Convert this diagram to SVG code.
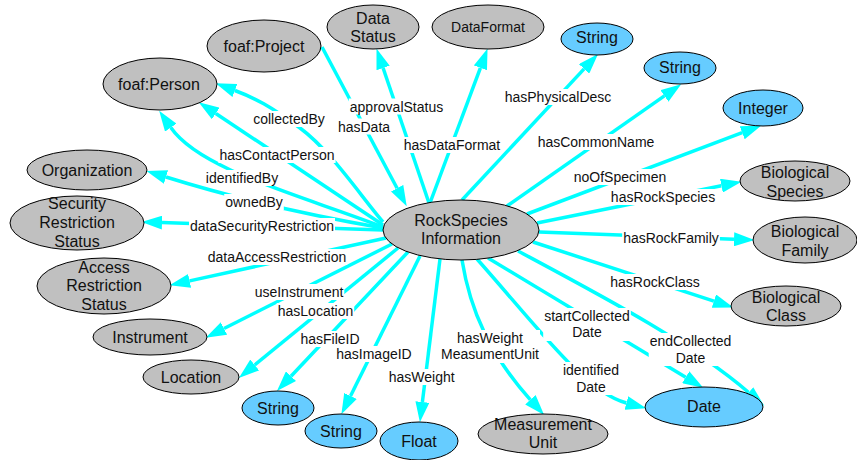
<svg xmlns="http://www.w3.org/2000/svg" width="857" height="460" viewBox="0 0 857 460">
<style>
.g ellipse{fill:#C0C0C0;stroke:#000;stroke-width:1}
.b ellipse{fill:#66CCFF;stroke:#000;stroke-width:1}
.nt{font-family:"Liberation Sans",Arial,Helvetica,sans-serif;font-size:16px;text-anchor:middle;fill:#111}
.sm{font-size:14px}
.e{fill:none;stroke:#00FFFF;stroke-width:3.5;marker-end:url(#arr)}
.et{font-family:"Liberation Sans",Arial,Helvetica,sans-serif;font-size:14px;text-anchor:middle;fill:#111}
.lb{fill:#fff}
</style>
<defs>
<marker id="arr" markerUnits="userSpaceOnUse" markerWidth="22" markerHeight="14" refX="0" refY="7" orient="auto">
<path d="M0,0 L20.5,7 L0,14 z" fill="#00FFFF"/>
</marker>
</defs>
<rect width="857" height="460" fill="#fff"/>
<g id="connectors">
<path class="e" d="M429,203 L383.1,68"/>
<path class="e" d="M430,203 L480.4,67.8"/>
<path class="e" d="M322,47 L397.1,188.2"/>
<path class="e" d="M462,200 L584.1,68.9"/>
<path class="e" d="M507,206 L664.4,95.9"/>
<path class="e" d="M527,214 L742.2,132.7"/>
<path class="e" d="M537,223 L721.4,185.7"/>
<path class="e" d="M539,232 L734,239.3"/>
<path class="e" d="M533,242 L713.9,301.1"/>
<path class="e" d="M518,251 C600,295 690,342 748.7,392.5"/>
<path class="e" d="M488,258 L685.7,377.2"/>
<path class="e" d="M477,259 C540,330 585,392 626.4,403"/>
<path class="e" d="M462,260 C470,310 490,355 530.4,399.8"/>
<path class="e" d="M440,259 L422.4,402"/>
<path class="e" d="M420,256 L350.5,396"/>
<path class="e" d="M408,252 L291,376.2"/>
<path class="e" d="M398,248 L254.7,365"/>
<path class="e" d="M392,244 L224,328.5"/>
<path class="e" d="M386,238 L189.6,280.9"/>
<path class="e" d="M383,230 L162,222.6"/>
<path class="e" d="M383,228 Q262,207 166,177"/>
<path class="e" d="M383,227 C300,195 200,170 170.8,127.6"/>
<path class="e" d="M383,225 L215.8,113.5"/>
<path class="e" d="M383,222 C360,195 330,150 300,128 S255,98 234.9,90.5"/>
</g>
<g id="connector-labels">
<rect class="lb" x="252.2" y="111" width="73.6" height="16"/><text class="et" x="289" y="124">collectedBy</text>
<rect class="lb" x="218.4" y="147" width="117.2" height="16"/><text class="et" x="277" y="160">hasContactPerson</text>
<rect class="lb" x="204.8" y="170" width="74.4" height="16"/><text class="et" x="242" y="183">identifiedBy</text>
<rect class="lb" x="224.2" y="194" width="59.6" height="16"/><text class="et" x="254" y="207">ownedBy</text>
<rect class="lb" x="189" y="218" width="146" height="16"/><text class="et" x="262" y="231">dataSecurityRestriction</text>
<rect class="lb" x="206.7" y="249" width="140.5" height="16"/><text class="et" x="277" y="262">dataAccessRestriction</text>
<rect class="lb" x="253.6" y="284" width="90.7" height="16"/><text class="et" x="299" y="297">useInstrument</text>
<rect class="lb" x="276.7" y="303" width="77.5" height="16"/><text class="et" x="315.5" y="316">hasLocation</text>
<rect class="lb" x="299.4" y="331" width="61.1" height="16"/><text class="et" x="330" y="344">hasFileID</text>
<rect class="lb" x="335.2" y="346" width="77.5" height="16"/><text class="et" x="374" y="359">hasImageID</text>
<rect class="lb" x="387.6" y="369" width="68.1" height="16"/><text class="et" x="421.7" y="382">hasWeight</text>
<rect class="lb" x="440" y="330" width="100" height="33"/><text class="et" x="490" y="343">hasWeight</text><text class="et" x="490" y="359">MeasumentUnit</text>
<rect class="lb" x="562" y="362" width="58" height="33"/><text class="et" x="591" y="375">identified</text><text class="et" x="591" y="391.5">Date</text>
<rect class="lb" x="543.2" y="308" width="87.6" height="33"/><text class="et" x="587" y="321">startCollected</text><text class="et" x="587" y="337">Date</text>
<rect class="lb" x="648.7" y="333" width="83.7" height="33"/><text class="et" x="690.5" y="346">endCollected</text><text class="et" x="690.5" y="363">Date</text>
<rect class="lb" x="609.3" y="274" width="91.5" height="16"/><text class="et" x="655" y="287">hasRockClass</text>
<rect class="lb" x="622.2" y="230" width="97.7" height="16"/><text class="et" x="671" y="243">hasRockFamily</text>
<rect class="lb" x="609.9" y="189" width="106.3" height="16"/><text class="et" x="663" y="202">hasRockSpecies</text>
<rect class="lb" x="572.7" y="169" width="94.6" height="16"/><text class="et" x="620" y="182">noOfSpecimen</text>
<rect class="lb" x="536.7" y="134" width="118.7" height="16"/><text class="et" x="596" y="147">hasCommonName</text>
<rect class="lb" x="503.7" y="89" width="108.6" height="16"/><text class="et" x="558" y="102">hasPhysicalDesc</text>
<rect class="lb" x="402.8" y="137" width="98.5" height="16"/><text class="et" x="452" y="150">hasDataFormat</text>
<rect class="lb" x="348.8" y="98.5" width="95.4" height="16"/><text class="et" x="396.5" y="111.5">approvalStatus</text>
<rect class="lb" x="337" y="118.5" width="54.1" height="16"/><text class="et" x="364" y="131.5">hasData</text>
</g>
<g id="n-center" class="g"><ellipse cx="461" cy="230" rx="78" ry="30"/><text class="nt" x="461" y="226">RockSpecies</text><text class="nt" x="461" y="244">Information</text></g>
<g id="n-person" class="g"><ellipse cx="160" cy="84" rx="57" ry="26"/><text class="nt" x="159" y="90">foaf:Person</text></g>
<g id="n-project" class="g"><ellipse cx="264" cy="46" rx="57" ry="26"/><text class="nt" x="264" y="52">foaf:Project</text></g>
<g id="n-datastatus" class="g"><ellipse cx="373" cy="27" rx="46" ry="22"/><text class="nt" x="373" y="23.5">Data</text><text class="nt" x="373" y="42">Status</text></g>
<g id="n-dataformat" class="g"><ellipse cx="488" cy="27" rx="56" ry="22"/><text class="nt sm" x="488" y="32">DataFormat</text></g>
<g id="n-string1" class="b"><ellipse cx="597" cy="39" rx="36" ry="16"/><text class="nt" x="597" y="43">String</text></g>
<g id="n-string2" class="b"><ellipse cx="680" cy="68" rx="36" ry="16"/><text class="nt" x="680" y="73">String</text></g>
<g id="n-integer" class="b"><ellipse cx="763" cy="108" rx="40" ry="18"/><text class="nt" x="763" y="113.5">Integer</text></g>
<g id="n-species" class="g"><ellipse cx="795" cy="181" rx="55" ry="20"/><text class="nt" x="795" y="178">Biological</text><text class="nt" x="795" y="196.5">Species</text></g>
<g id="n-family" class="g"><ellipse cx="805" cy="240" rx="52" ry="23"/><text class="nt" x="805" y="237">Biological</text><text class="nt" x="805" y="255.5">Family</text></g>
<g id="n-class" class="g"><ellipse cx="786" cy="306" rx="55" ry="20"/><text class="nt" x="786" y="302.5">Biological</text><text class="nt" x="786" y="320.5">Class</text></g>
<g id="n-date" class="b"><ellipse cx="704" cy="407" rx="59" ry="20"/><text class="nt" x="704" y="412">Date</text></g>
<g id="n-unit" class="g"><ellipse cx="543" cy="434" rx="65" ry="20"/><text class="nt" x="543" y="430">Measurement</text><text class="nt" x="543" y="448">Unit</text></g>
<g id="n-float" class="b"><ellipse cx="419" cy="441" rx="39" ry="19"/><text class="nt" x="419" y="447">Float</text></g>
<g id="n-string3" class="b"><ellipse cx="341" cy="431" rx="36" ry="17"/><text class="nt" x="341" y="437">String</text></g>
<g id="n-string4" class="b"><ellipse cx="278" cy="408" rx="36" ry="17"/><text class="nt" x="278" y="414">String</text></g>
<g id="n-location" class="g"><ellipse cx="191" cy="377" rx="48" ry="17"/><text class="nt" x="191" y="383">Location</text></g>
<g id="n-instrument" class="g"><ellipse cx="150" cy="337" rx="57" ry="18"/><text class="nt" x="150" y="342.5">Instrument</text></g>
<g id="n-access" class="g"><ellipse cx="104" cy="286" rx="67" ry="28"/><text class="nt" x="104" y="272.5">Access</text><text class="nt" x="104" y="291">Restriction</text><text class="nt" x="104" y="310">Status</text></g>
<g id="n-security" class="g"><ellipse cx="77" cy="223" rx="67" ry="27"/><text class="nt" x="77" y="209">Security</text><text class="nt" x="77" y="228">Restriction</text><text class="nt" x="77" y="247">Status</text></g>
<g id="n-organization" class="g"><ellipse cx="87" cy="170" rx="60" ry="20"/><text class="nt" x="87" y="176">Organization</text></g>
</svg>
